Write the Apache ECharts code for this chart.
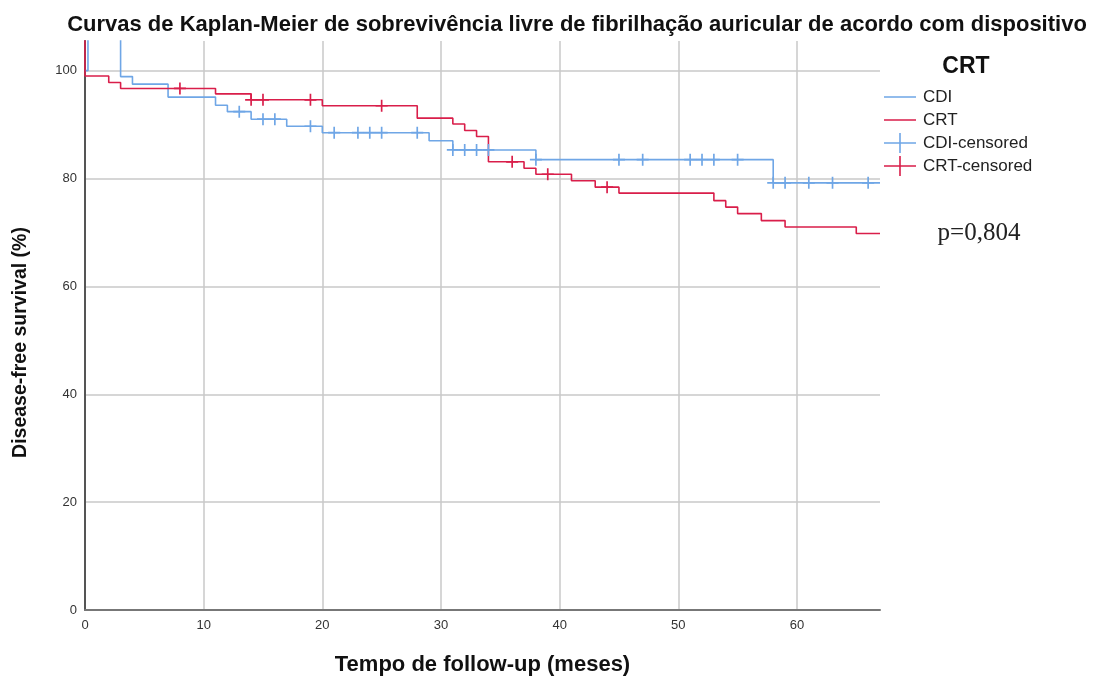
<!DOCTYPE html>
<html>
<head>
<meta charset="utf-8">
<script src="https://cdn.jsdelivr.net/npm/echarts@6/dist/echarts.min.js"></script>
<style>html,body{margin:0;padding:0;background:#fff;}#c{width:1102px;height:679px;}</style>
</head>
<body>
<div id="c"></div>
<script>
// Kaplan-Meier step curves (time in months, survival in %); first points run off the top as in the reference
const cdiTimes = [0, 0.25, 3, 4, 7, 11, 12, 14, 17, 20, 29, 31, 38, 58, 67];
const cdiSurv  = [100, 112, 98.9, 97.5, 95.1, 93.6, 92.4, 91.0, 89.7, 88.5, 87.0, 85.3, 83.5, 79.2, 79.2];
const crtTimes = [0, 0, 2, 3, 11, 14, 20, 28, 31, 32, 33, 34, 37, 38, 41, 43, 45, 53, 54, 55, 57, 59, 65, 67];
const crtSurv  = [112, 99.0, 97.8, 96.7, 95.7, 94.6, 93.5, 91.2, 90.1, 88.9, 87.8, 83.1, 81.9, 80.8, 79.6, 78.4, 77.3, 75.9, 74.7, 73.5, 72.2, 71.0, 69.8, 69.8];
const cdiCensored = [13, 15, 16, 19, 21, 23, 24, 25, 28, 31, 32, 33, 34, 38, 45, 47, 51, 52, 53, 55, 58, 59, 61, 63, 66];
const crtCensored = [8, 14, 15, 19, 25, 36, 39, 44];
const seriesNames = ['CDI', 'CRT', 'CDI-censored', 'CRT-censored'];
const xTicks = [0, 10, 20, 30, 40, 50, 60];
const yTicks = [0, 20, 40, 60, 80, 100];

const BLUE = '#6fa6e6', RED = '#d91e4a';
const FONT = 'Liberation Sans, Arial, sans-serif';

function stepValue(times, surv, t) {
  let v = surv[0];
  for (let i = 0; i < times.length; i++) { if (times[i] <= t) v = surv[i]; }
  return v;
}
const zip = (a, b) => a.map((x, i) => [x, b[i]]);
const censorPts = (ts, times, surv) => ts.map(t => [t, stepValue(times, surv, t)]);

const plusPath = 'path://M0,8.6 L20,8.6 L20,11.4 L0,11.4 Z M8.6,0 L11.4,0 L11.4,20 L8.6,20 Z';
// tiny corner specks keep every legend icon's box at 32x20 so rows stay evenly spaced
const corners = ' M0,0 L0.05,0 L0,0.05 Z M32,20 L31.95,20 L32,19.95 Z';
const legLine = 'path://M0,9.2 L32,9.2 L32,10.8 L0,10.8 Z' + corners;
const legPlus = 'path://M0,9.2 L32,9.2 L32,10.8 L0,10.8 Z M15.2,0 L16.8,0 L16.8,20 L15.2,20 Z' + corners;

const chart = echarts.init(document.getElementById('c'), null, {renderer: 'canvas'});
chart.setOption({
  backgroundColor: '#fff',
  animation: false,
  title: [
    {text: 'Curvas de Kaplan-Meier de sobrevivência livre de fibrilhação auricular de acordo com dispositivo',
     left: 572, textAlign: 'center', top: 9,
     textStyle: {fontFamily: FONT, fontSize: 22, fontWeight: 'bold', color: '#111'}},
    {text: 'CRT', left: 961, textAlign: 'center', top: 50,
     textStyle: {fontFamily: FONT, fontSize: 23, fontWeight: 'bold', color: '#111'}},
    {text: 'p=0,804', left: 974, textAlign: 'center', top: 216,
     textStyle: {fontFamily: 'Liberation Serif, Times New Roman, serif', fontSize: 25, fontWeight: 'normal', color: '#222'}}
  ],
  legend: {
    orient: 'vertical', left: 884, top: 87, padding: 0, itemWidth: 32, itemHeight: 20, itemGap: 3,
    textStyle: {fontFamily: FONT, fontSize: 17, color: '#222', padding: [0, 0, 0, 2]},
    data: [
      {name: seriesNames[0], icon: legLine, itemStyle: {color: BLUE}},
      {name: seriesNames[1], icon: legLine, itemStyle: {color: RED}},
      {name: seriesNames[2], icon: legPlus, itemStyle: {color: BLUE}},
      {name: seriesNames[3], icon: legPlus, itemStyle: {color: RED}}
    ]
  },
  grid: {left: 85, right: 222, top: 41, bottom: 69, containLabel: false, outerBoundsMode: 'none'},
  xAxis: {
    type: 'value', min: xTicks[0], max: 67, interval: 10,
    name: 'Tempo de follow-up (meses)', nameLocation: 'middle', nameGap: 44,
    nameTextStyle: {fontFamily: FONT, fontSize: 22, fontWeight: 'bold', color: '#111'},
    axisLine: {show: true, onZero: false, lineStyle: {color: '#777', width: 2}},
    axisTick: {show: false},
    axisLabel: {fontFamily: FONT, fontSize: 13, color: '#333', margin: 9, showMaxLabel: false,
      formatter: v => xTicks.includes(v) ? String(v) : ''},
    splitLine: {show: true, showMaxLine: false, showMinLine: false, lineStyle: {color: '#c8c8c8', width: 1.5}}
  },
  yAxis: {
    type: 'value', min: yTicks[0], max: 105.5, interval: 20,
    name: 'Disease-free survival (%)', nameLocation: 'middle', nameGap: 54, nameRotate: 90,
    nameTextStyle: {fontFamily: FONT, fontSize: 19.5, fontWeight: 'bold', color: '#111', padding: [0, 34, 0, 0]},
    axisLine: {show: true, onZero: false, lineStyle: {color: '#555', width: 2}},
    axisTick: {show: false},
    axisLabel: {fontFamily: FONT, fontSize: 13, color: '#333', margin: 8, showMaxLabel: false,
      padding: [3, 0, 0, 0],
      formatter: v => yTicks.includes(v) ? String(v) : ''},
    splitLine: {show: true, showMaxLine: false, showMinLine: false, lineStyle: {color: '#c8c8c8', width: 1.5}}
  },
  series: [
    {name: seriesNames[0], type: 'line', step: 'end', data: zip(cdiTimes, cdiSurv), showSymbol: false, symbol: 'none',
     clip: true, lineStyle: {color: BLUE, width: 1.6}, itemStyle: {color: BLUE}, z: 3},
    {name: seriesNames[1], type: 'line', step: 'end', data: zip(crtTimes, crtSurv), showSymbol: false, symbol: 'none',
     clip: true, lineStyle: {color: RED, width: 1.6}, itemStyle: {color: RED}, z: 4},
    {name: seriesNames[2], type: 'scatter', data: censorPts(cdiCensored, cdiTimes, cdiSurv), symbol: plusPath,
     symbolSize: 12, itemStyle: {color: BLUE, opacity: 1}, z: 5},
    {name: seriesNames[3], type: 'scatter', data: censorPts(crtCensored, crtTimes, crtSurv), symbol: plusPath,
     symbolSize: 12, itemStyle: {color: RED, opacity: 1}, z: 6}
  ]
});
</script>
</body>
</html>
